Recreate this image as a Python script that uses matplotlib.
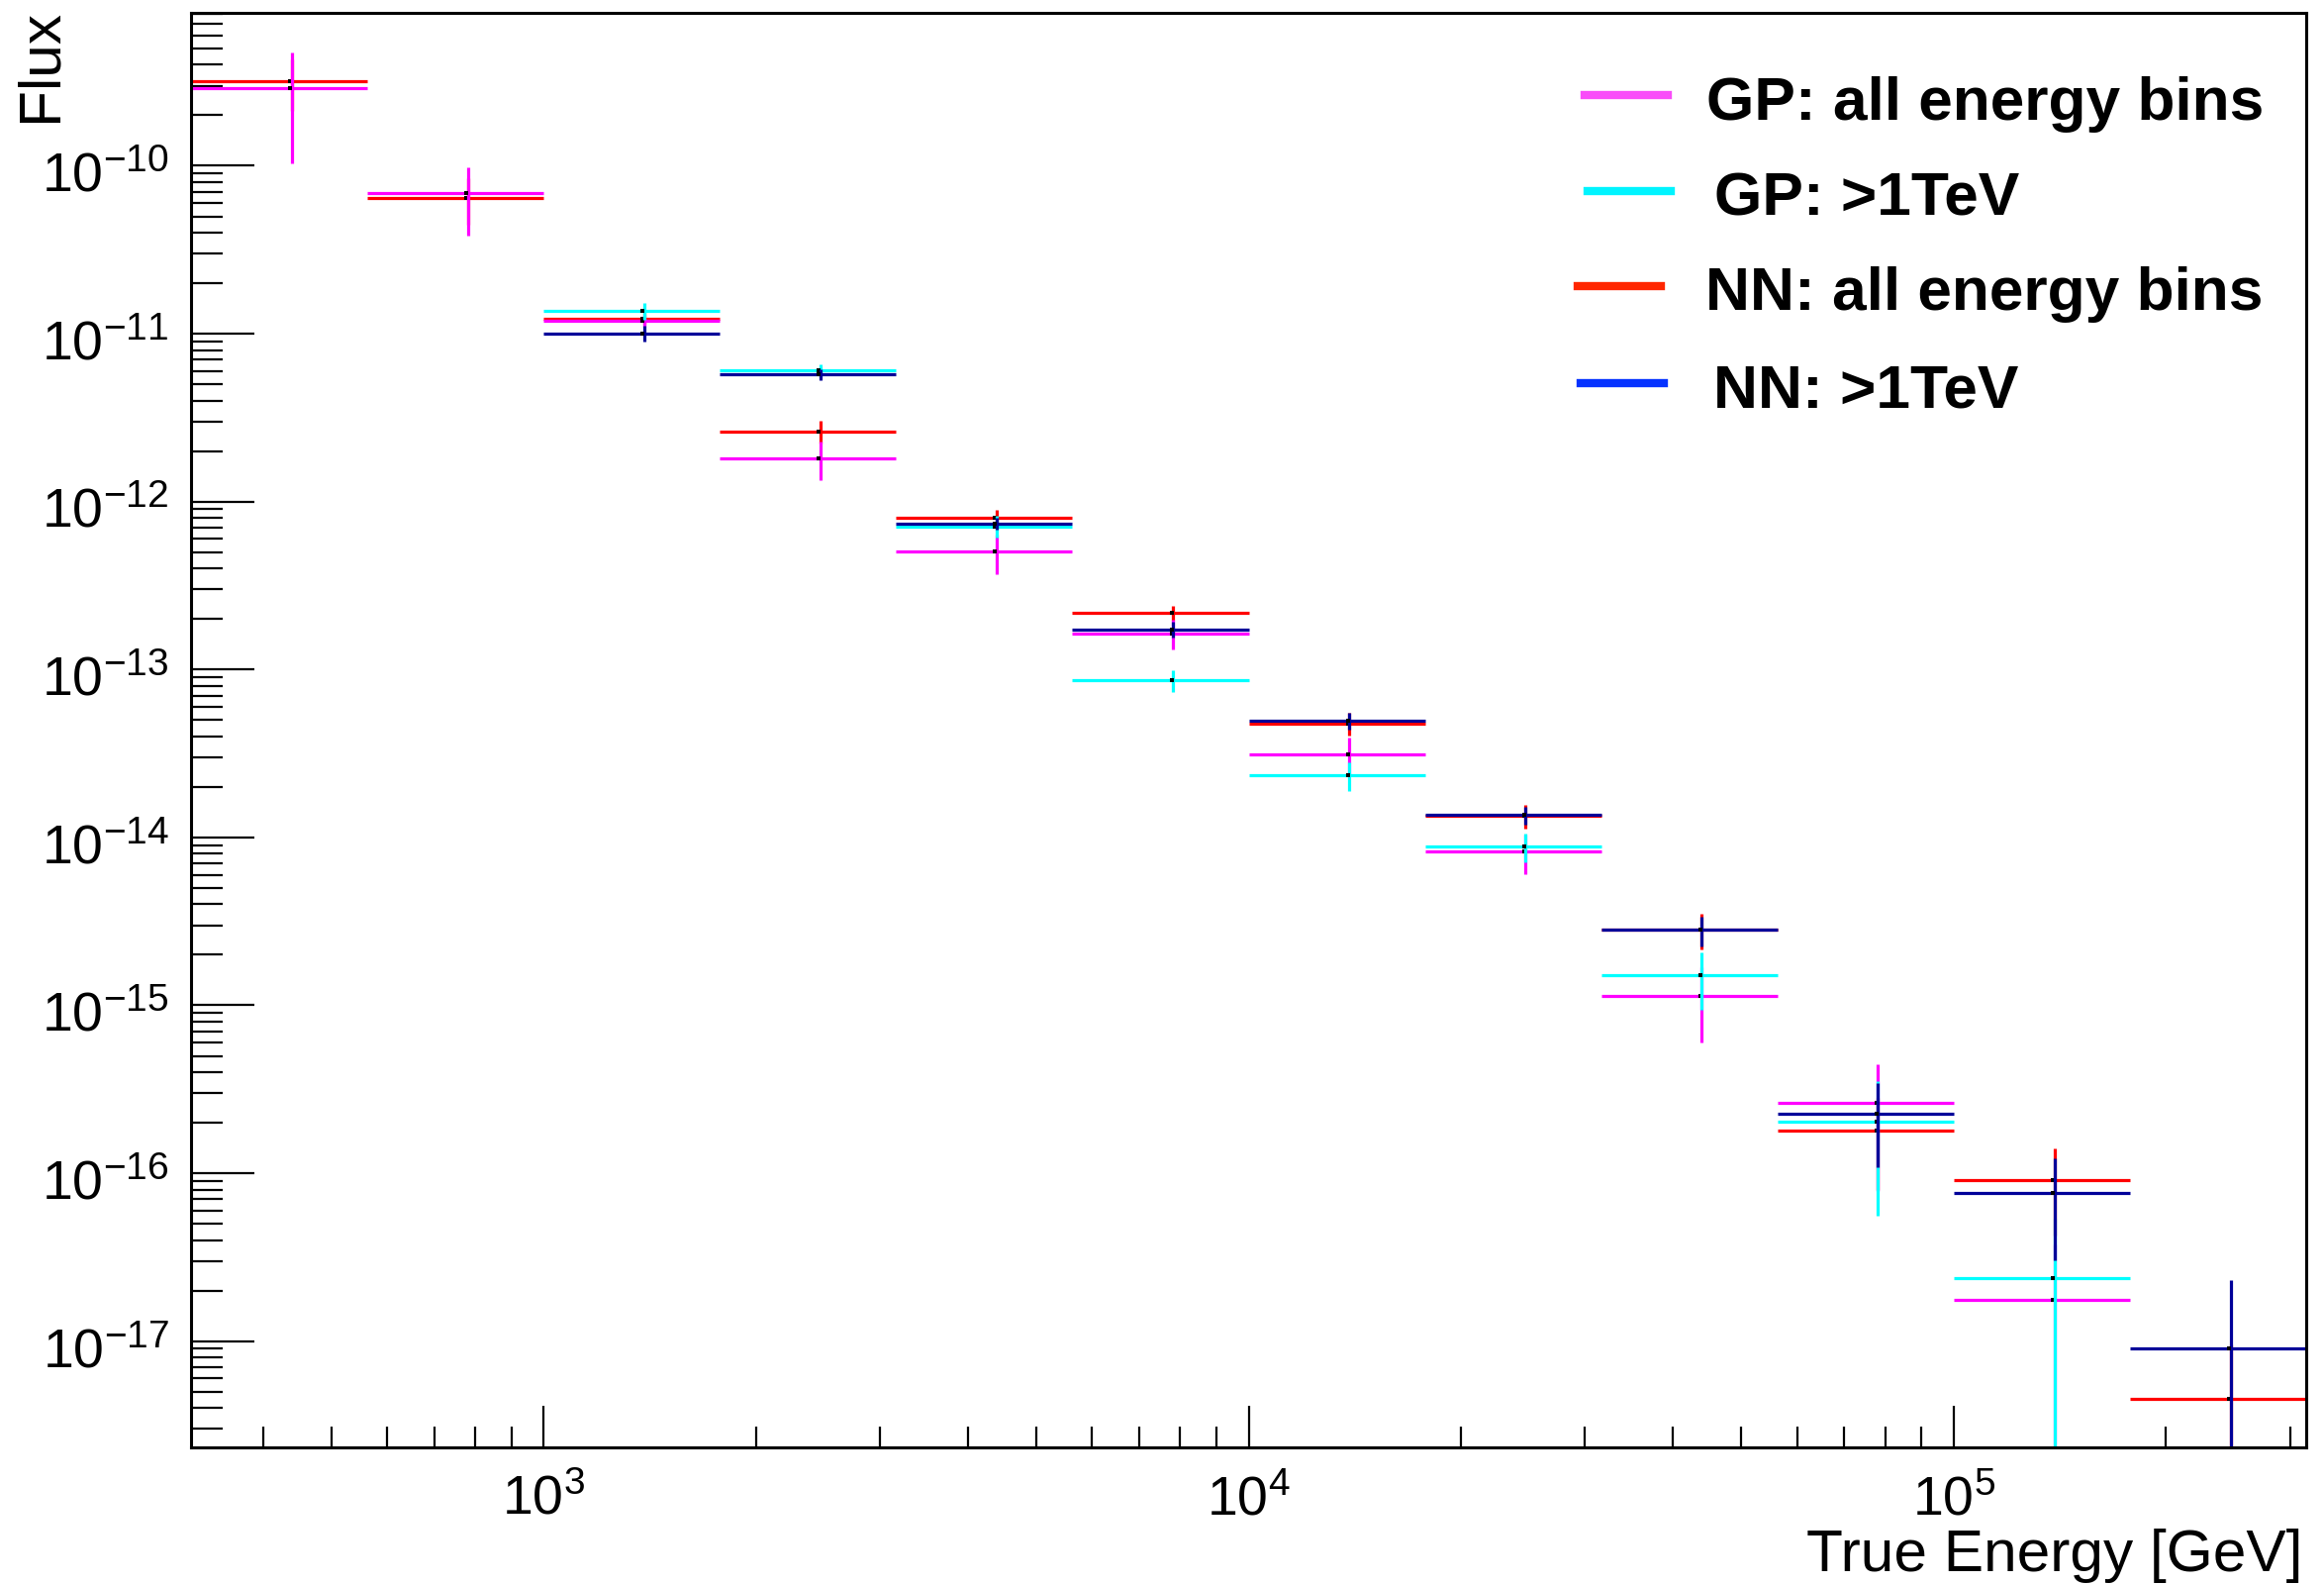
# Flux vs true energy, GP and NN unfolding, ROOT style look
import numpy as np
import matplotlib
matplotlib.use("Agg")
import matplotlib.pyplot as plt
from matplotlib.lines import Line2D
from matplotlib.transforms import ScaledTranslation
from matplotlib.ticker import LogLocator, NullFormatter, LogFormatterSciNotation

plt.rcParams['font.family'] = ['Liberation Sans', 'DejaVu Sans']
plt.rcParams['mathtext.fontset'] = 'custom'
plt.rcParams['mathtext.rm'] = 'Liberation Sans'
plt.rcParams['mathtext.it'] = 'Liberation Sans:italic'
plt.rcParams['mathtext.bf'] = 'Liberation Sans:bold'

# energy bin edges [GeV]
bin_edges = [316.2, 562.3, 1000.0, 1778.3, 3162.3, 5623.4, 10000.0,
             17782.8, 31622.8, 56234.1, 100000.0, 177827.9, 316227.8]
nan = np.nan
gp_all = [2.89e-10, 6.86e-11, 1.195e-11, 1.816e-12, 5.04e-13, 1.64e-13,
          3.13e-14, 8.26e-15, 1.14e-15, 2.62e-16, 1.77e-17, nan]
gp_all_err = [1.86e-10, 3.0e-11, 1.0e-12, 4.7e-13, 1.34e-13, 3.3e-14,
              8.0e-15, 2.2e-15, 5.4e-16, 1.84e-16, 2.0e-17, nan]
gp_1tev = [nan, nan, 1.367e-11, 6.04e-12, 7.13e-13, 8.61e-14,
           2.34e-14, 8.83e-15, 1.51e-15, 2.04e-16, 2.36e-17, nan]
gp_1tev_err = [nan, nan, 1.6e-12, 5.0e-13, 1.05e-13, 1.3e-14,
               4.6e-15, 1.7e-15, 5.7e-16, 1.48e-16, 3.0e-17, nan]
nn_all = [3.21e-10, 6.43e-11, 1.233e-11, 2.62e-12, 7.98e-13, 2.17e-13,
          4.78e-14, 1.35e-14, 2.83e-15, 1.80e-16, 9.14e-17, 4.51e-18]
nn_all_err = [1.1e-10, 2.0e-11, 1.0e-12, 4.1e-13, 9.5e-14, 2.3e-14,
              7.5e-15, 2.2e-15, 6.7e-16, 1.0e-16, 4.9e-17, 5.0e-18]
nn_1tev = [nan, nan, 1.005e-11, 5.72e-12, 7.39e-13, 1.73e-13,
           4.98e-14, 1.358e-14, 2.81e-15, 2.26e-16, 7.63e-17, 9.02e-18]
nn_1tev_err = [nan, nan, 1.1e-12, 4.3e-13, 6.0e-14, 1.9e-14,
               5.8e-15, 1.7e-15, 5.7e-16, 1.17e-16, 4.6e-17, 1.4e-17]

legend_labels = ["GP: all energy bins", "GP: >1TeV", "NN: all energy bins", "NN: >1TeV"]
legend_colors = ['#f94cf9', '#00f4ff', '#ff2600', '#0532ff']

W, H = 2348, 1600
fig = plt.figure(figsize=(W / 100, H / 100), dpi=100)
ax = fig.add_axes([193 / W, 1 - 1462 / H, (2330 - 193) / W, (1462 - 12.5) / H])
ax.set_xscale('log')
ax.set_yscale('log')

edges = np.array(bin_edges)
lo, hi = edges[:-1], edges[1:]
centers = 0.5 * (lo + hi)


def draw_hist(vals, errs, color):
    v = np.array(vals)
    e = np.array(errs)
    ok = ~np.isnan(v)
    v, e, c, l, h = v[ok], e[ok], centers[ok], lo[ok], hi[ok]
    lower = np.minimum(e, v * 0.999999)  # goes down to the axis when err >= value
    ax.errorbar(c, v, xerr=[c - l, h - c], yerr=[lower, e], fmt='none',
                ecolor=color, elinewidth=2.3, capsize=0)
    ax.plot(c * 0.995, v, 's', color='black', ms=2.8, mew=0)


# drawing order: NN all, GP all, GP >1TeV, NN >1TeV on top
draw_hist(nn_all, nn_all_err, '#ff0000')
draw_hist(gp_all, gp_all_err, '#ff00ff')
draw_hist(gp_1tev, gp_1tev_err, '#00ffff')
draw_hist(nn_1tev, nn_1tev_err, '#000099')

ax.set_xlim(bin_edges[0], bin_edges[-1])
ax.set_ylim(2.33e-18, 8.2e-10)

for s in ax.spines.values():
    s.set_linewidth(2.2)

ax.xaxis.set_major_locator(LogLocator(base=10, numticks=20))
ax.xaxis.set_minor_locator(LogLocator(base=10, subs=np.arange(2, 10), numticks=100))
ax.yaxis.set_major_locator(LogLocator(base=10, numticks=30))
ax.yaxis.set_minor_locator(LogLocator(base=10, subs=np.arange(2, 10), numticks=200))
ax.xaxis.set_major_formatter(LogFormatterSciNotation())
ax.yaxis.set_major_formatter(LogFormatterSciNotation())
ax.xaxis.set_minor_formatter(NullFormatter())
ax.yaxis.set_minor_formatter(NullFormatter())

ax.tick_params(axis='x', which='major', direction='in', length=30, width=1.6,
               labelsize=40, pad=20, top=False)
ax.tick_params(axis='x', which='minor', direction='in', length=15, width=1.6, top=False)
ax.tick_params(axis='y', which='major', direction='in', length=46, width=1.6,
               labelsize=40, pad=16, right=False)
ax.tick_params(axis='y', which='minor', direction='in', length=23, width=1.6, right=False)

ax.set_xlabel("True Energy [GeV]", fontsize=43.5)
ax.xaxis.label.set_ha('right')
ax.xaxis.label.set_va('baseline')
ax.xaxis.set_label_coords((2326 - 193) / (2330 - 193), -(1587 - 1462) / (1462 - 12.5))

# y title sits at the top left, reading upwards
ax.set_ylabel("Flux", fontsize=43.5, rotation=90, rotation_mode='anchor')
ax.yaxis.label.set_ha('right')
ax.yaxis.label.set_va('top')
ax.yaxis.set_label_coords((14 - 193) / (2330 - 193), (1462 - 9) / (1462 - 12.5))

# legend, drawn by hand to follow the ROOT TLegend layout
handle_x = [(1601, 1685), (1604, 1688), (1594, 1678), (1597, 1681)]
handle_y = [96, 193, 289, 387]
text_x = [1724, 1732, 1723, 1731]
text_y = [121, 217, 313, 411]
for i, lab in enumerate(legend_labels):
    x0, x1 = handle_x[i]
    fig.add_artist(Line2D([x0 / W, x1 / W], [1 - handle_y[i] / H] * 2,
                          transform=fig.transFigure, color=legend_colors[i], lw=6))
    fig.text(text_x[i] / W, 1 - text_y[i] / H, lab, fontsize=44.8,
             fontweight='bold', ha='left', va='baseline')

# ROOT puts the y labels a little lower than matplotlib does
fig.canvas.draw()
shift = ScaledTranslation(0, -6 / 100, fig.dpi_scale_trans)
for t in ax.yaxis.get_major_ticks():
    t.label1.set_transform(t.label1.get_transform() + shift)

fig.savefig("out.png", dpi=100)
